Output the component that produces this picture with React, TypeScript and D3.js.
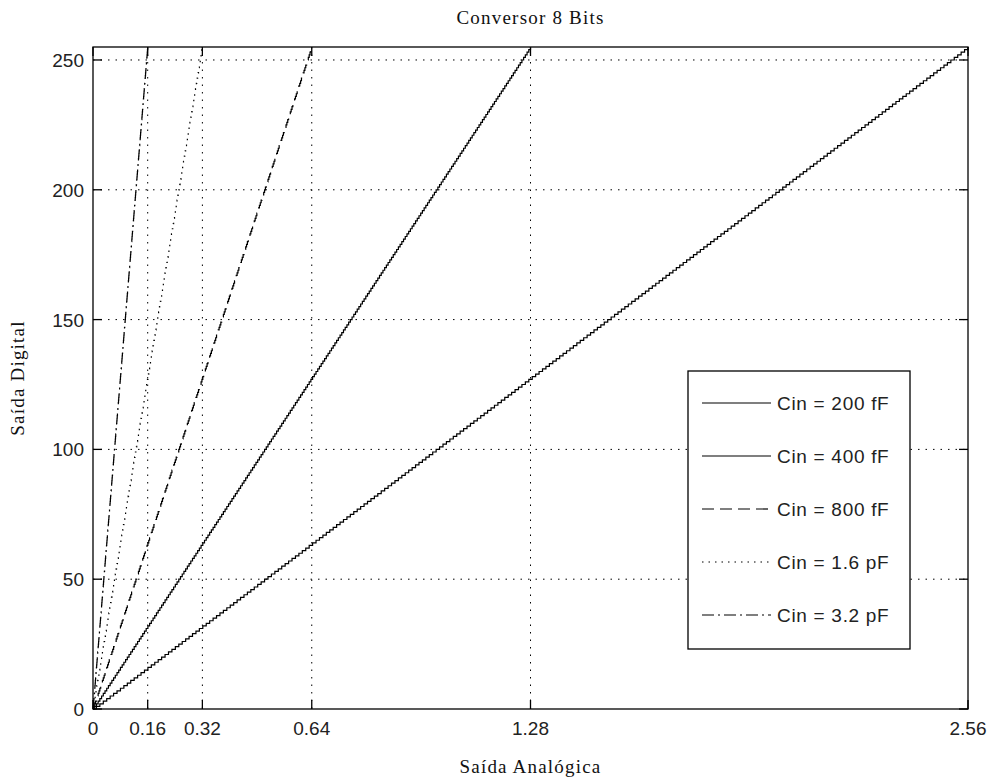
import React from 'react';
import * as d3 from 'd3';

// full-scale analog output (V) reached by each input capacitance
const seriesNames = ['Cin = 200 fF', 'Cin = 400 fF', 'Cin = 800 fF', 'Cin = 1.6 pF', 'Cin = 3.2 pF'];
const fullScale = [2.56, 1.28, 0.64, 0.32, 0.16];
const dashes = ['none', 'none', '12,6', '1.5,5', '12,4,2,4'];
// digital output codes of the 8 bit converter
const codes = d3.range(0, 256);
const xTicks = [0, 0.16, 0.32, 0.64, 1.28, 2.56];
const xTickLabels = ['0', '0.16', '0.32', '0.64', '1.28', '2.56'];
const yTicks = [0, 50, 100, 150, 200, 250];

const W = 994, H = 778;
const left = 93, right = 968, top = 47, bottom = 709;

export default function App() {
  const x = d3.scaleLinear().domain([0, 2.56]).range([left, right]);
  const y = d3.scaleLinear().domain([0, 255]).range([bottom, top]);

  const line = d3.line<number[]>()
    .x(d => x(d[0]))
    .y(d => y(d[1]))
    .curve(d3.curveStepAfter);

  const sans = '"Liberation Sans", Arial, sans-serif';
  const serif = '"Liberation Serif", "Times New Roman", serif';

  const legX = 688, legY = 371, legW = 222, legH = 278;
  const rowY = (i: number) => 403 + i * 53;

  return (
    <svg width={W} height={H} style={{ position: 'absolute', left: 0, top: 0, background: '#fff' }}>
      <rect x={0} y={0} width={W} height={H} fill="#fff" />
      {/* grid */}
      {xTicks.slice(1, -1).map(t => (
        <line key={'gx' + t} x1={x(t)} x2={x(t)} y1={top} y2={bottom}
          stroke="#000" strokeWidth={1} strokeDasharray="1.5,6" />
      ))}
      {yTicks.slice(1).map(t => (
        <line key={'gy' + t} x1={left} x2={right} y1={y(t)} y2={y(t)}
          stroke="#000" strokeWidth={1} strokeDasharray="1.5,6" />
      ))}
      {/* series */}
      {fullScale.map((fs, i) => {
        const pts = codes.map(k => [fs * k / 255, k]);
        return (
          <path key={seriesNames[i]} d={line(pts) || ''} fill="none" stroke="#000"
            strokeWidth={1.2} strokeDasharray={dashes[i]} />
        );
      })}
      {/* box + ticks */}
      <rect x={left} y={top} width={right - left} height={bottom - top} fill="none" stroke="#000" strokeWidth={1.3} />
      {xTicks.map((t, i) => (
        <g key={'xt' + t}>
          <line x1={x(t)} x2={x(t)} y1={bottom} y2={bottom - 9} stroke="#000" strokeWidth={1.3} />
          <line x1={x(t)} x2={x(t)} y1={top} y2={top + 9} stroke="#000" strokeWidth={1.3} />
          <text x={x(t)} y={735} textAnchor="middle" fontFamily={sans} fontSize={19} fill="#222">{xTickLabels[i]}</text>
        </g>
      ))}
      {yTicks.map(t => (
        <g key={'yt' + t}>
          <line x1={left} x2={left + 9} y1={y(t)} y2={y(t)} stroke="#000" strokeWidth={1.3} />
          <line x1={right} x2={right - 9} y1={y(t)} y2={y(t)} stroke="#000" strokeWidth={1.3} />
          <text x={84} y={y(t) + 7} textAnchor="end" fontFamily={sans} fontSize={19} fill="#222">{t}</text>
        </g>
      ))}
      {/* titles */}
      <text x={(left + right) / 2} y={24} textAnchor="middle" fontFamily={serif} fontSize={19} letterSpacing={1.2} fill="#111">Conversor 8 Bits</text>
      <text x={(left + right) / 2} y={773} textAnchor="middle" fontFamily={serif} fontSize={19} letterSpacing={1.2} fill="#111">Saída Analógica</text>
      <text transform={`translate(24,${(top + bottom) / 2}) rotate(-90)`} textAnchor="middle" fontFamily={serif} fontSize={19} letterSpacing={1.2} fill="#111">Saída Digital</text>
      {/* legend */}
      <rect x={legX} y={legY} width={legW} height={legH} fill="#fff" stroke="#000" strokeWidth={1.3} />
      {seriesNames.map((n, i) => (
        <g key={'lg' + n}>
          <line x1={702} x2={771} y1={rowY(i)} y2={rowY(i)} stroke="#000" strokeWidth={1.2}
            strokeDasharray={dashes[i]} />
          <text x={777} y={rowY(i) + 7} fontFamily={sans} fontSize={19} letterSpacing={0.7} fill="#222">{n}</text>
        </g>
      ))}
    </svg>
  );
}
